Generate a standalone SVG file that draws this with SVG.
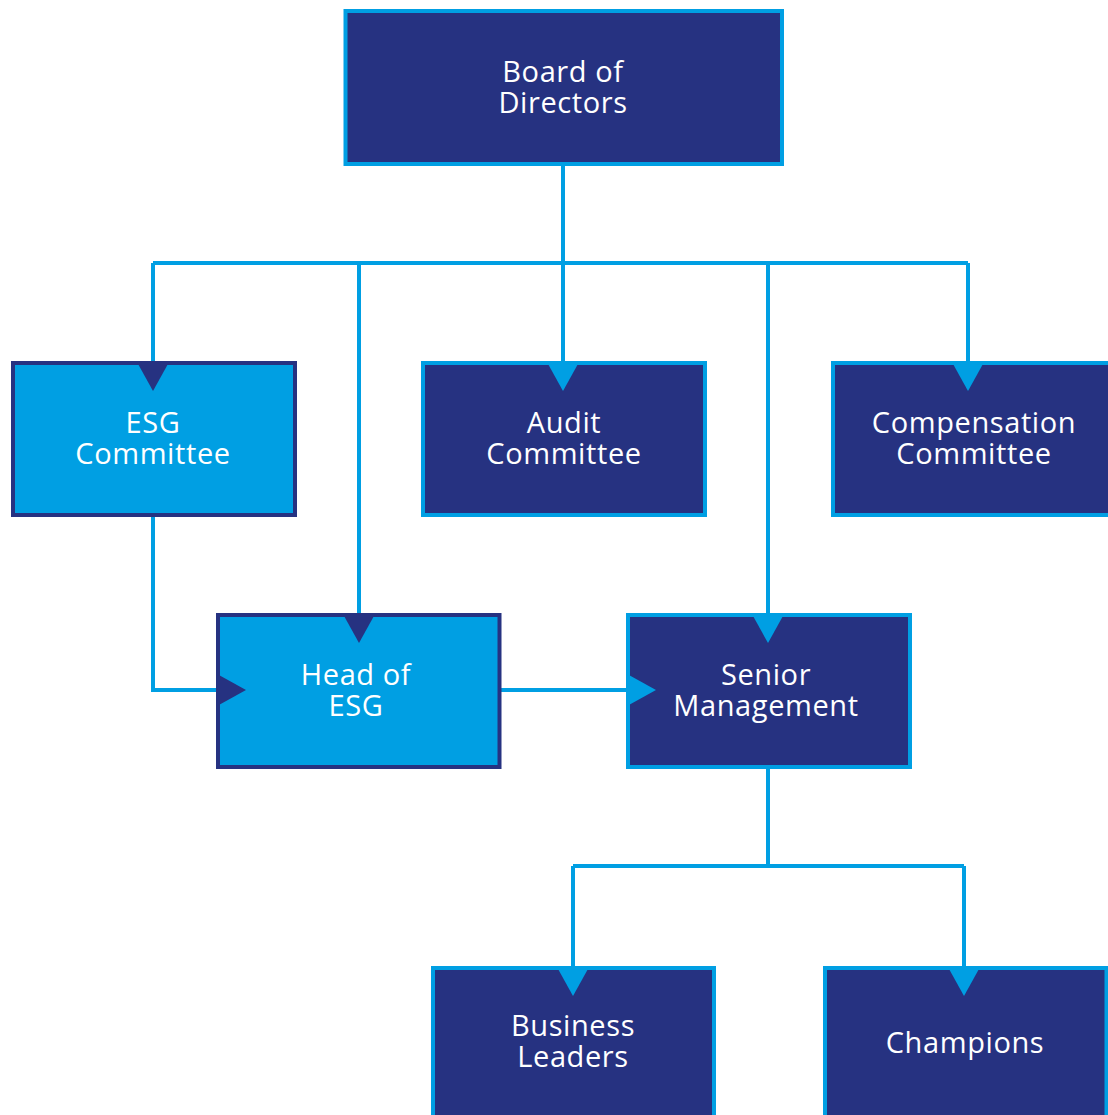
<svg xmlns="http://www.w3.org/2000/svg" width="1108" height="1115" viewBox="0 0 1108 1115">
  <style>
    .dark { fill: #263281; stroke: #009fe3; stroke-width: 4; }
    .light { fill: #009fe3; stroke: #263281; stroke-width: 4; }
    .tri-light { fill: #009fe3; }
    .tri-dark { fill: #263281; }
    .wire { fill: none; stroke: #009fe3; stroke-width: 4; }
    text { font-family: "Open Sans", "Noto Sans", "DejaVu Sans", sans-serif; font-size: 29px; letter-spacing: 0.6px; fill: #ffffff; text-anchor: middle; }
  </style>
  <defs>
    <!-- downward pointer sitting on a box's top edge -->
    <path id="ptr" d="M-15.5,0 L15.5,0 L0,28 Z"/>
  </defs>

  <rect width="1108" height="1115" fill="#ffffff"/>

  <g id="connectors">
    <path class="wire" d="M563,164 V263"/>
    <path class="wire" d="M153,263 H968"/>
    <path class="wire" d="M153,263 V363"/>
    <path class="wire" d="M359,263 V615"/>
    <path class="wire" d="M563,263 V363"/>
    <path class="wire" d="M768,263 V615"/>
    <path class="wire" d="M968,263 V363"/>
    <path class="wire" d="M153,515 V690 H218"/>
    <path class="wire" d="M499,690 H628"/>
    <path class="wire" d="M768,767 V866"/>
    <path class="wire" d="M573,866 H964"/>
    <path class="wire" d="M573,866 V968"/>
    <path class="wire" d="M964,866 V968"/>
  </g>

  <g id="board">
    <rect class="dark" x="345.5" y="11" width="436.5" height="153"/>
    <text><tspan x="563" y="82">Board of</tspan><tspan x="563" y="113">Directors</tspan></text>
  </g>

  <g id="esg-committee">
    <rect class="light" x="13" y="363" width="282" height="152"/>
    <use href="#ptr" class="tri-dark" x="153" y="363"/>
    <text><tspan x="153" y="433">ESG</tspan><tspan x="153" y="464">Committee</tspan></text>
  </g>

  <g id="audit-committee">
    <rect class="dark" x="423" y="363" width="282" height="152"/>
    <use href="#ptr" class="tri-light" x="563" y="363"/>
    <text><tspan x="564" y="433">Audit</tspan><tspan x="564" y="464">Committee</tspan></text>
  </g>

  <g id="compensation-committee">
    <rect class="dark" x="833" y="363" width="282" height="152"/>
    <use href="#ptr" class="tri-light" x="968" y="363"/>
    <text><tspan x="974" y="433">Compensation</tspan><tspan x="974" y="464">Committee</tspan></text>
  </g>

  <g id="head-of-esg">
    <rect class="light" x="218" y="615" width="281.5" height="152"/>
    <use href="#ptr" class="tri-dark" x="359" y="615"/>
    <use href="#ptr" class="tri-dark" transform="translate(218,690) rotate(-90)"/>
    <text><tspan x="356" y="685">Head of</tspan><tspan x="356" y="716">ESG</tspan></text>
  </g>

  <g id="senior-management">
    <rect class="dark" x="628" y="615" width="282" height="152"/>
    <use href="#ptr" class="tri-light" x="768" y="615"/>
    <use href="#ptr" class="tri-light" transform="translate(628,690) rotate(-90)"/>
    <text><tspan x="766" y="685">Senior</tspan><tspan x="766" y="716">Management</tspan></text>
  </g>

  <g id="business-leaders">
    <rect class="dark" x="433" y="968" width="281" height="160"/>
    <use href="#ptr" class="tri-light" x="573" y="968"/>
    <text><tspan x="573" y="1036">Business</tspan><tspan x="573" y="1067">Leaders</tspan></text>
  </g>

  <g id="champions">
    <rect class="dark" x="825" y="968" width="281.5" height="160"/>
    <use href="#ptr" class="tri-light" x="964" y="968"/>
    <text x="965" y="1053">Champions</text>
  </g>
</svg>
